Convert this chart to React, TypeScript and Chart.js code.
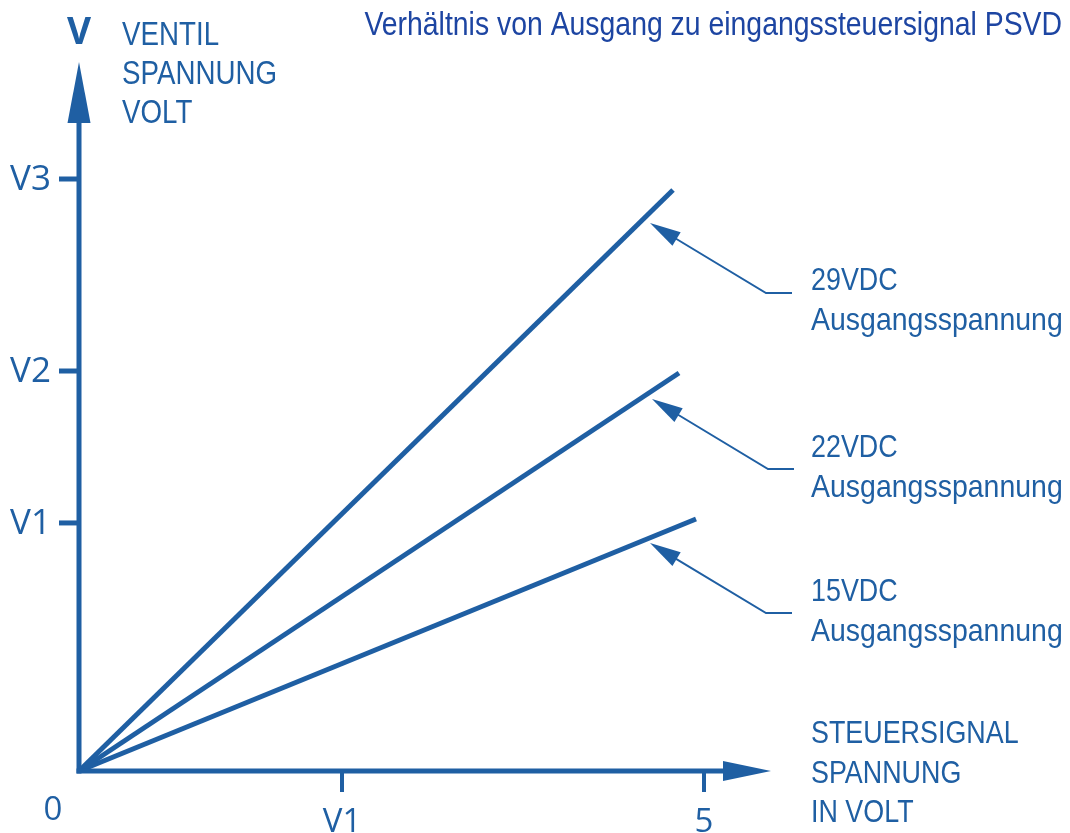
import React, { useEffect, useRef } from "react";
import { Chart, registerables } from "chart.js";

Chart.register(...registerables);

// ---- data ----
const seriesNames = ["29VDC", "22VDC", "15VDC"];
const seriesEndX = [4.752, 4.8, 4.936];
const seriesEndY = [2.944, 2.017, 1.277];
const yTickLabels = ["V1", "V2", "V3"];
const yTickValues = [1.257, 2.027, 3.0];
const xTickLabels = ["0", "V1", "5"];
const xTickValues = [0, 2.104, 5];
const annotationTipX = [4.568, 4.584, 4.568];
const annotationTipY = [2.777, 1.885, 1.155];
const annotationSubLabel = "Ausgangsspannung";
const yAxisTitle = ["VENTIL", "SPANNUNG", "VOLT"];
const xAxisTitle = ["STEUERSIGNAL", "SPANNUNG", "IN VOLT"];
const chartTitle = "Verhältnis von Ausgang zu eingangssteuersignal PSVD";

const BLUE = "#1f5fa3";
const TITLE_BLUE = "#1d45a2";
const SANS = '"Liberation Sans", Arial, sans-serif';
const REG = '"Open Sans", sans-serif';
const NARROW_SCALE = 0.84;

function narrowText(
  ctx: CanvasRenderingContext2D,
  text: string,
  x: number,
  y: number,
  size: number,
  align: "left" | "right" | "center" = "left",
  hs: number = NARROW_SCALE
) {
  ctx.save();
  ctx.font = `${size}px ${SANS}`;
  ctx.textAlign = align;
  ctx.textBaseline = "alphabetic";
  ctx.translate(x, y);
  ctx.scale(hs, 1);
  ctx.fillText(text, 0, 0);
  ctx.restore();
}

const diagramPlugin = {
  id: "diagram",
  afterDraw(chart: any) {
    const ctx: CanvasRenderingContext2D = chart.ctx;
    const xs = chart.scales.x;
    const ys = chart.scales.y;
    const ox = xs.getPixelForValue(0);
    const oy = ys.getPixelForValue(0);
    ctx.save();
    ctx.strokeStyle = BLUE;
    ctx.fillStyle = BLUE;
    ctx.lineCap = "butt";

    // y axis
    const yTip = ys.getPixelForValue(3.593);
    ctx.lineWidth = 5;
    ctx.beginPath();
    ctx.moveTo(ox, oy + 2.5);
    ctx.lineTo(ox, yTip + 55);
    ctx.stroke();
    ctx.beginPath();
    ctx.moveTo(ox, yTip);
    ctx.lineTo(ox - 11.5, yTip + 61);
    ctx.lineTo(ox + 11.5, yTip + 61);
    ctx.closePath();
    ctx.fill();

    // x axis
    const xTip = xs.getPixelForValue(5.536);
    ctx.beginPath();
    ctx.moveTo(ox - 2.5, oy);
    ctx.lineTo(xTip - 44, oy);
    ctx.stroke();
    ctx.beginPath();
    ctx.moveTo(xTip, oy);
    ctx.lineTo(xTip - 48, oy - 10);
    ctx.lineTo(xTip - 48, oy + 10);
    ctx.closePath();
    ctx.fill();

    // y ticks
    ctx.font = `35px ${REG}`;
    ctx.textAlign = "right";
    ctx.textBaseline = "middle";
    yTickValues.forEach((v, i) => {
      const py = ys.getPixelForValue(v);
      ctx.lineWidth = 5;
      ctx.beginPath();
      ctx.moveTo(ox - 20, py);
      ctx.lineTo(ox, py);
      ctx.stroke();
      ctx.fillText(yTickLabels[i], 51, py + 1);
    });

    // x ticks
    ctx.font = `33px ${REG}`;
    ctx.textAlign = "center";
    ctx.textBaseline = "alphabetic";
    xTickValues.forEach((v, i) => {
      const px = xs.getPixelForValue(v);
      if (v === 0) {
        ctx.fillText(xTickLabels[i], 53, 820);
        return;
      }
      ctx.lineWidth = 4;
      ctx.beginPath();
      ctx.moveTo(px, oy);
      ctx.lineTo(px, oy + 21);
      ctx.stroke();
      ctx.fillText(xTickLabels[i], px, 832);
    });

    // annotations
    seriesNames.forEach((name, i) => {
      const tx = xs.getPixelForValue(annotationTipX[i]);
      const ty = ys.getPixelForValue(annotationTipY[i]);
      const ex = tx + 116;
      const ey = ty + 70;
      const dx = ex - tx;
      const dy = ey - ty;
      const len = Math.hypot(dx, dy);
      const ux = dx / len;
      const uy = dy / len;
      const hl = 31;
      const hw = 8;
      ctx.beginPath();
      ctx.moveTo(tx, ty);
      ctx.lineTo(tx + ux * hl - uy * hw, ty + uy * hl + ux * hw);
      ctx.lineTo(tx + ux * hl + uy * hw, ty + uy * hl - ux * hw);
      ctx.closePath();
      ctx.fill();
      ctx.lineWidth = 2;
      ctx.beginPath();
      ctx.moveTo(tx + ux * (hl - 2), ty + uy * (hl - 2));
      ctx.lineTo(ex, ey);
      ctx.lineTo(ex + 26, ey);
      ctx.stroke();
      const base = i === 0 ? ey - 3 : ey - 12;
      narrowText(ctx, name, 811, base, 32);
      narrowText(ctx, annotationSubLabel, 811, base + 40, 32, "left", 0.89);
    });

    // axis titles
    ctx.font = `bold 37px ${REG}`;
    ctx.textAlign = "center";
    ctx.textBaseline = "alphabetic";
    ctx.fillText("V", ox, 44);
    [45, 84, 123].forEach((b, i) => narrowText(ctx, yAxisTitle[i], 122, b, 33));
    [743, 783, 822].forEach((b, i) => narrowText(ctx, xAxisTitle[i], 811, b, 32));

    // title
    ctx.fillStyle = TITLE_BLUE;
    narrowText(ctx, chartTitle, 1062, 35, 34, "right", 0.835);
    ctx.restore();
  },
};

export default function App() {
  const ref = useRef<HTMLCanvasElement | null>(null);
  useEffect(() => {
    document.body.style.margin = "0";
    const canvas = ref.current;
    if (!canvas) return;
    const chart = new Chart(canvas, {
      type: "line",
      data: {
        datasets: seriesNames.map((n, i) => ({
          label: n,
          data: [
            { x: 0, y: 0 },
            { x: seriesEndX[i], y: seriesEndY[i] },
          ],
          borderColor: BLUE,
          borderWidth: 5,
          pointRadius: 0,
          tension: 0,
          borderCapStyle: "butt" as const,
          clip: false as any,
        })),
      },
      options: {
        animation: false,
        responsive: true,
        maintainAspectRatio: false,
        layout: { padding: { left: 79, right: 366, top: 179, bottom: 62 } },
        plugins: { legend: { display: false }, tooltip: { enabled: false }, title: { display: false } },
        events: [],
        scales: {
          x: { type: "linear", min: 0, max: 5, display: false },
          y: { type: "linear", min: 0, max: 3, display: false },
        },
      },
      plugins: [diagramPlugin],
    });
    return () => chart.destroy();
  }, []);
  return (
    <div style={{ position: "relative", width: 1070, height: 833, background: "#fff" }}>
      <canvas ref={ref} />
    </div>
  );
}
